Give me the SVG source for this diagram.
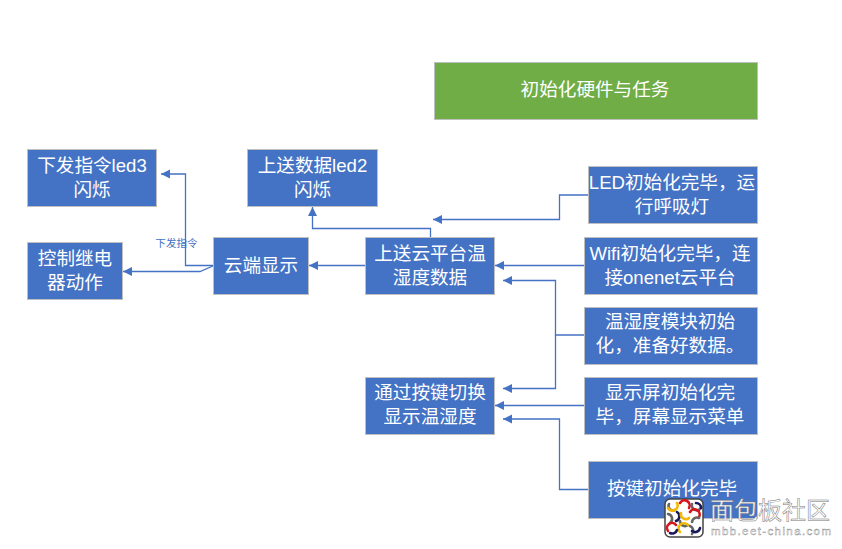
<svg xmlns="http://www.w3.org/2000/svg" width="842" height="549" viewBox="0 0 842 549">
<style>
.box{fill:#4472C4;stroke:#BFBFBF;stroke-width:1}
.t{font-family:"Liberation Sans","Noto Sans CJK SC",sans-serif;font-size:18.6px;fill:#fff;text-anchor:middle}
.c{fill:none;stroke:#4472C4;stroke-width:1.3}
.l{font-family:"Noto Sans CJK SC",sans-serif;font-size:10.6px;fill:#4472C4;text-anchor:middle}
.s{fill:none;stroke-width:2.6;stroke-linecap:round}
</style>
<defs>
<marker id="a" markerUnits="userSpaceOnUse" markerWidth="10" markerHeight="10" refX="9" refY="5" orient="auto"><path d="M0 0.5L9 5L0 9.5Z" fill="#4472C4"/></marker>
</defs>
<rect width="842" height="549" fill="#fff"/>
<g id="connectors">
<path class="c" marker-end="url(#a)" d="M588 195H559.5V219.5H433"/>
<path class="c" marker-end="url(#a)" d="M585 265.5H495"/>
<path class="c" marker-end="url(#a)" d="M585 335H555.5V280.5H503"/>
<path class="c" marker-end="url(#a)" d="M555.5 335V388.5H503"/>
<path class="c" marker-end="url(#a)" d="M585 405.500H495"/>
<path class="c" marker-end="url(#a)" d="M589 489.5H559.5V419H503"/>
<path class="c" marker-end="url(#a)" d="M366 265.5H309"/>
<path class="c" marker-end="url(#a)" d="M430.5 238V228.5H312.5V207"/>
<path class="c" marker-end="url(#a)" d="M214 265.5H185.5V174H161"/>
<path class="c" marker-end="url(#a)" d="M214 265.5L200 271.5H123"/>
<text class="l" x="176.500" y="247">下发指令</text>
</g>
<g id="n-init"><rect x="434.500" y="62.500" width="323" height="57" fill="#70AD47" stroke="#BFBFBF"/><text class="t" x="595" y="96">初始化硬件与任务</text></g>
<g id="n-led3"><rect class="box" x="27.500" y="149.500" width="129" height="57"/><text class="t" y="171.500"><tspan x="92">下发指令led3</tspan><tspan x="92" dy="24">闪烁</tspan></text></g>
<g id="n-led2"><rect class="box" x="247.500" y="149.500" width="130" height="57"/><text class="t" y="171.500"><tspan x="312.500">上送数据led2</tspan><tspan x="312.500" dy="24">闪烁</tspan></text></g>
<g id="n-led"><rect class="box" x="588.500" y="166.500" width="169" height="57"/><text class="t" y="188.500"><tspan x="672">LED初始化完毕，运</tspan><tspan x="672" dy="24">行呼吸灯</tspan></text></g>
<g id="n-wifi"><rect class="box" x="584.500" y="237.500" width="173" height="57"/><text class="t" y="259.500"><tspan x="670">Wifi初始化完毕，连</tspan><tspan x="670" dy="24">接onenet云平台</tspan></text></g>
<g id="n-cloud"><rect class="box" x="213.500" y="237.500" width="95" height="57"/><text class="t" x="261" y="271.500">云端显示</text></g>
<g id="n-upload"><rect class="box" x="365.500" y="237.500" width="129" height="57"/><text class="t" y="259.500"><tspan x="430">上送云平台温</tspan><tspan x="430" dy="24">湿度数据</tspan></text></g>
<g id="n-relay"><rect class="box" x="27.500" y="242.500" width="95" height="57"/><text class="t" y="264.500"><tspan x="75">控制继电</tspan><tspan x="75" dy="24">器动作</tspan></text></g>
<g id="n-sensor"><rect class="box" x="584.500" y="307.500" width="173" height="57"/><text class="t" y="328"><tspan x="670">温湿度模块初始</tspan><tspan x="670" dy="24">化，准备好数据。</tspan></text></g>
<g id="n-switch"><rect class="box" x="365.500" y="377.500" width="129" height="57"/><text class="t" y="398.500"><tspan x="430">通过按键切换</tspan><tspan x="430" dy="24">显示温湿度</tspan></text></g>
<g id="n-screen"><rect class="box" x="584.500" y="377.500" width="173" height="57"/><text class="t" y="398.500"><tspan x="670">显示屏初始化完</tspan><tspan x="670" dy="24">毕，屏幕显示菜单</tspan></text></g>
<g id="n-key"><rect class="box" x="588.500" y="461.500" width="169" height="57"/><text class="t" x="672" y="495">按键初始化完毕</text></g>
<g id="watermark">
<rect x="665" y="499" width="38" height="38" rx="5" fill="#fff" stroke="#444" stroke-width="1.500"/>
<path class="s" stroke="#666" d="M669 504a4.500 4.500 0 0 0 6 6"/>
<path class="s" stroke="#F5B800" d="M668 508a5 5 0 0 0 9-5"/>
<path class="s" stroke="#D8141C" d="M680 503a5 5 0 0 1 9 5"/>
<path class="s" stroke="#666" d="M692 504a5 5 0 0 0 9 4"/>
<path class="s" stroke="#1A1A5A" d="M696 503a5 5 0 0 1 5 5"/>
<path class="s" stroke="#1A1A5A" d="M677 512a5 5 0 0 1-1 9"/>
<path class="s" stroke="#666" d="M668 514a5 5 0 0 1 2 9"/>
<path class="s" stroke="#F5B800" d="M681 513a5 5 0 0 0 8 5"/>
<path class="s" stroke="#D8141C" d="M690 512a5 5 0 0 1 9 5"/>
<path class="s" stroke="#666" d="M692 522a5 5 0 0 1 7-4"/>
<path class="s" stroke="#D8141C" d="M668 531a5 5 0 0 1 8-6"/>
<path class="s" stroke="#666" d="M680 521a5 5 0 0 0 8 4"/>
<path class="s" stroke="#F5B800" d="M680 532a5 5 0 0 1 8-7"/>
<path class="s" stroke="#666" d="M690 526a5 5 0 0 1 2 8"/>
<path class="s" stroke="#1A1A5A" d="M692 531a5 5 0 0 0 8-3"/>
<path class="s" stroke="#1A1A5A" d="M670 533a5 5 0 0 0 7-3"/>
<text x="710" y="519" font-family="'Noto Sans CJK SC',sans-serif" font-size="24" fill="#fff" stroke="#777" stroke-width=".5" textLength="120">面包板社区</text>
<text x="711" y="535" font-family="'Liberation Sans',sans-serif" font-size="11.500" fill="#fff" stroke="#888" stroke-width=".4" textLength="120">mbb.eet-china.com</text>
</g>
</svg>
